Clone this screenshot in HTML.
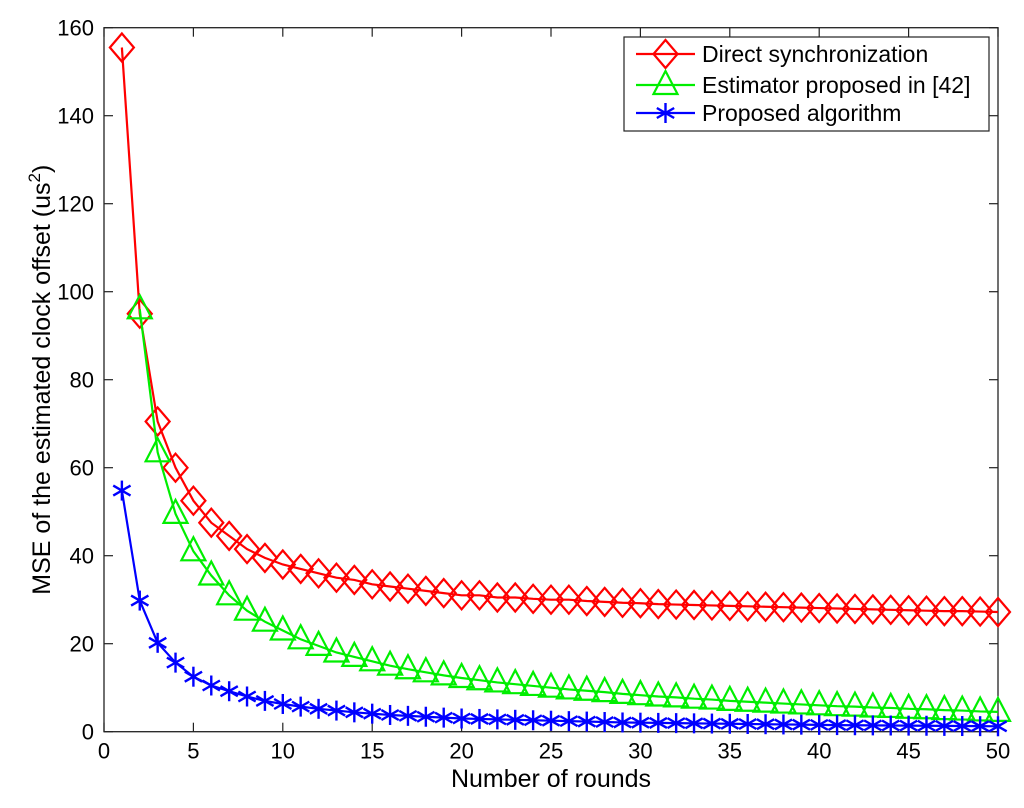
<!DOCTYPE html>
<html><head><meta charset="utf-8"><style>
body{margin:0;background:#fff;}
svg text{font-family:"Liberation Sans",Arial,sans-serif;fill:#000;}
</style></head><body>
<svg id="chart" width="1024" height="803" xmlns="http://www.w3.org/2000/svg"></svg>
<script>
const rounds = Array.from({length:50},(_,i)=>i+1);
const directSync = [155.5,95,70.5,60,52.5,47.5,44.5,41.5,39.5,38,37,36,35,34.5,33.5,33,32.5,32,31.5,31,31,30.5,30.5,30.2,30,30,29.7,29.5,29.3,29.2,29,28.9,28.8,28.7,28.6,28.5,28.4,28.3,28.2,28.1,28,27.9,27.8,27.7,27.6,27.5,27.4,27.4,27.3,27.2];
const estimator = [null,96,63.5,49.5,41,35.5,31,27.5,25,23,21,19.5,18,17,16,15,14.2,13.5,12.8,12.2,11.7,11.2,10.8,10.4,10,9.6,9.3,9,8.6,8.3,8,7.8,7.5,7.3,7,6.8,6.6,6.4,6.2,6,5.8,5.7,5.5,5.4,5.2,5.1,4.9,4.8,4.6,4.5];
const proposed = [54.8,29.8,20.2,15.7,12.5,10.5,9.2,8,7,6.3,5.7,5.2,4.8,4.4,4.1,3.8,3.6,3.4,3.2,3,2.9,2.8,2.7,2.6,2.5,2.4,2.3,2.2,2.1,2.05,2,1.95,1.9,1.85,1.8,1.75,1.7,1.65,1.6,1.55,1.5,1.47,1.44,1.41,1.38,1.35,1.32,1.29,1.26,1.23];
const xTicks = [0,5,10,15,20,25,30,35,40,45,50];
const yTicks = [0,20,40,60,80,100,120,140,160];

const L=104,R=998,T=27.7,B=731.7;
const sx=v=>L+(v-0)/50*(R-L);
const sy=v=>B-(v-0)/160*(B-T);
const svg=document.getElementById('chart');
const NS='http://www.w3.org/2000/svg';
function mk(tag,attrs,parent){const e=document.createElementNS(NS,tag);for(const k in attrs)e.setAttribute(k,attrs[k]);(parent||svg).appendChild(e);return e;}

const box=mk('rect',{x:L,y:T,width:R-L,height:B-T,fill:'none',stroke:'#222','stroke-width':1.3});


xTicks.forEach(t=>{
  const x=sx(t);
  mk('line',{x1:x,y1:B,x2:x,y2:B-9,stroke:'#222','stroke-width':1.2});
  mk('line',{x1:x,y1:T,x2:x,y2:T+9,stroke:'#222','stroke-width':1.2});
  const tx=mk('text',{x:x,y:B+27,'text-anchor':'middle','font-size':22});
  tx.textContent=t;
  
  
});
yTicks.forEach(t=>{
  const y=sy(t);
  mk('line',{x1:L,y1:y,x2:L+9,y2:y,stroke:'#222','stroke-width':1.2});
  mk('line',{x1:R,y1:y,x2:R-9,y2:y,stroke:'#222','stroke-width':1.2});
  const tx=mk('text',{x:L-10,y:y+8,'text-anchor':'end','font-size':22});
  tx.textContent=t;
  
  
});
const xt=mk('text',{x:(L+R)/2,y:787,'text-anchor':'middle','font-size':25});
xt.textContent='Number of rounds';


const yt=mk('text',{x:0,y:0,'text-anchor':'middle','font-size':25,transform:`translate(50,${(T+B)/2}) rotate(-90)`});
yt.innerHTML='MSE of the estimated clock offset (us<tspan dy="-10" font-size="17">2</tspan><tspan dy="10">)</tspan>';



function marker(type,x,y,color,g){
  if(type==='d') mk('polygon',{points:`${x},${y-14} ${x+12},${y} ${x},${y+14} ${x-12},${y}`,fill:'none',stroke:color,'stroke-width':2.2},g);
  else if(type==='t') mk('polygon',{points:`${x},${y-14} ${x+12},${y+9} ${x-12},${y+9}`,fill:'none',stroke:color,'stroke-width':2.2},g);
  else { const r=10; [[0,1],[0.866,0.5],[0.866,-0.5]].forEach(([a,b])=>mk('line',{x1:x-a*r,y1:y-b*r,x2:x+a*r,y2:y+b*r,stroke:color,'stroke-width':2.4},g)); }
}
function series(vals,color,type,name){
  const g=mk('g',{});
  
  
  const pts=[];vals.forEach((v,i)=>{if(v!=null)pts.push([sx(rounds[i]),sy(v)]);});
  mk('polyline',{points:pts.map(p=>p.join(',')).join(' '),fill:'none',stroke:color,'stroke-width':2.2},g);
  pts.forEach(p=>marker(type,p[0],p[1],color,g));
}
series(directSync,'#ff0000','d','direct-sync-series');
series(estimator,'#00ee00','t','estimator-series');
series(proposed,'#0000ff','s','proposed-series');

const lg=mk('g',{});


mk('rect',{x:624,y:37,width:365,height:94,fill:'#fff',stroke:'#222','stroke-width':1.2},lg);
const entries=[['Direct synchronization','#ff0000','d',54],['Estimator proposed in [42]','#00ee00','t',85],['Proposed algorithm','#0000ff','s',113]];
entries.forEach(([lab,c,t,y])=>{
  const g=mk('g',{},lg);
  
  
  mk('line',{x1:636,y1:y,x2:695,y2:y,stroke:c,'stroke-width':2.2},g);
  marker(t,665.5,y,c,g);
  const tx=mk('text',{x:702,y:y+8,'font-size':23},g);
  tx.textContent=lab;
});
</script>
</body></html>
